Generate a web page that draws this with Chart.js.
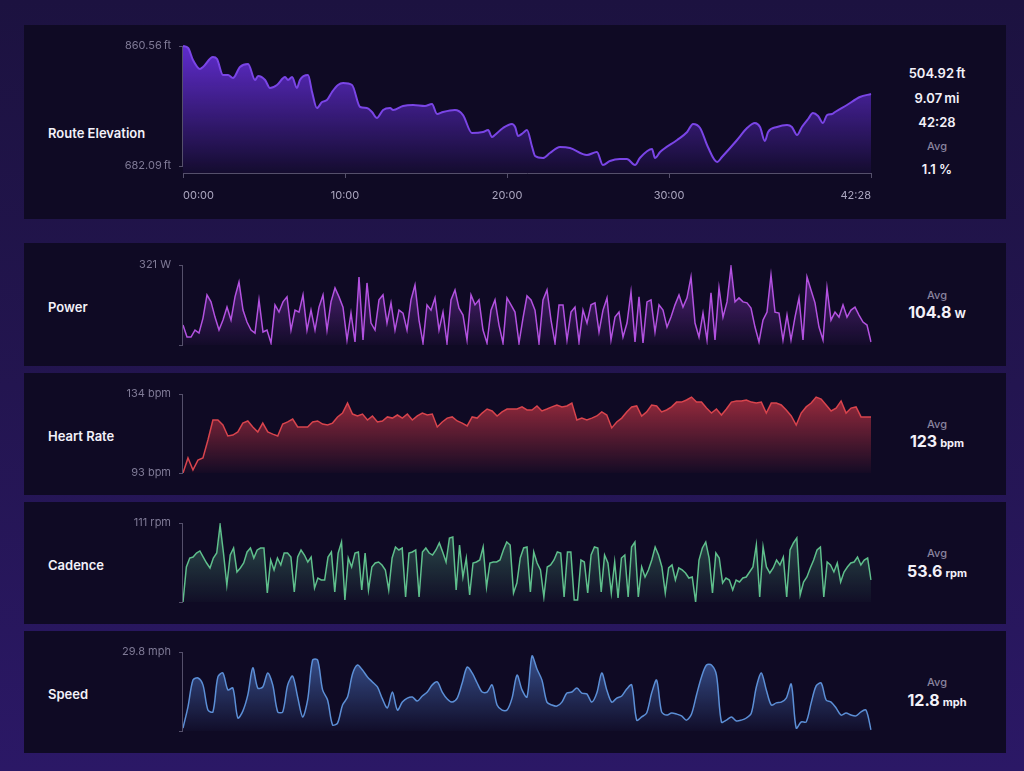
<!DOCTYPE html>
<html>
<head>
<meta charset="utf-8">
<script src="https://cdn.jsdelivr.net/npm/chart.js@4.4.1/dist/chart.umd.min.js"></script>
<style>
  html, body { margin: 0; padding: 0; }
  body {
    width: 1024px; height: 771px; overflow: hidden; position: relative;
    background: linear-gradient(180deg, #1c1240 0%, #231550 50%, #2b1866 100%);
    font-family: Inter, "Noto Sans", sans-serif;
  }
  .panel { position: absolute; left: 24px; width: 982px; background: #0f0a24; }
  .label { position: absolute; left: 48px; line-height: 16px; color: #f3f1f9; font-size: 13px; font-weight: 600; }
  canvas { position: absolute; left: 100px; }
  .stat { position: absolute; left: 870px; width: 134px; text-align: center; line-height: 16px; color: #f3f1f9; font-size: 13px; font-weight: 600; }
  .avg { color: #8a849f; font-size: 11px; font-weight: 500; }
  .big { font-size: 16px; font-weight: 700; line-height: 20px; }
  .unit { font-size: 11px; font-weight: 700; margin-left: 3px; }
</style>
</head>
<body>
<div class="panel" style="top:25px;height:194px"></div>
<div class="panel" style="top:243px;height:123px"></div>
<div class="panel" style="top:373px;height:122px"></div>
<div class="panel" style="top:502px;height:122px"></div>
<div class="panel" style="top:631px;height:122px"></div>

<div class="label" style="top:125px">Route Elevation</div>
<div class="label" style="top:299px">Power</div>
<div class="label" style="top:428px">Heart Rate</div>
<div class="label" style="top:557px">Cadence</div>
<div class="label" style="top:686px">Speed</div>

<div class="stat" style="top:65px">504.92&#8201;ft</div>
<div class="stat" style="top:90px">9.07&#8201;mi</div>
<div class="stat" style="top:114px">42:28</div>
<div class="stat avg" style="top:138px">Avg</div>
<div class="stat" style="top:161px">1.1 %</div>

<div class="stat avg" style="top:287px">Avg</div>
<div class="stat big" style="top:302px">104.8<span class="unit">W</span></div>
<div class="stat avg" style="top:416px">Avg</div>
<div class="stat big" style="top:431px">123<span class="unit">bpm</span></div>
<div class="stat avg" style="top:545px">Avg</div>
<div class="stat big" style="top:561px">53.6<span class="unit">rpm</span></div>
<div class="stat avg" style="top:674px">Avg</div>
<div class="stat big" style="top:690px">12.8<span class="unit">mph</span></div>

<canvas id="elevChart" width="790" height="176" style="top:31px"></canvas>
<canvas id="powerChart" width="790" height="110" style="top:250px"></canvas>
<canvas id="heartChart" width="790" height="109" style="top:379px"></canvas>
<canvas id="cadenceChart" width="790" height="109" style="top:508px"></canvas>
<canvas id="speedChart" width="790" height="109" style="top:637px"></canvas>

<script>
// elevation: time (s) and feet
const elevTime = [0,19,37,63,74,111,126,148,167,185,211,241,267,278,304,322,348,378,389,404,
  422,433,463,478,496,515,533,552,574,593,626,656,681,700,718,741,767,778,815,852,
  896,922,941,963,1007,1037,1070,1111,1130,1144,1155,1185,1218,1230,1241,1259,1274,1293,1304,1333,
  1359,1396,1433,1496,1533,1555,1581,1618,1644,1674,1692,1737,1748,1767,1830,1867,1889,1915,1944,1978,
  1996,2052,2089,2118,2137,2155,2167,2200,2237,2255,2274,2292,2315,2333,2352,2370,2385,2404,2415,2459,
  2507,2548];
const elevFt = [860.5,857.6,839.7,826.4,829.3,844.2,841.2,817.4,817.4,813.0,
  829.3,833.8,810.0,815.9,810.0,798.1,802.6,814.4,810.0,814.4,
  798.1,810.0,817.4,792.2,768.3,777.3,780.2,792.2,802.6,805.5,
  802.6,769.8,768.3,762.4,753.5,765.4,768.3,765.4,771.3,772.8,
  771.3,774.3,759.4,762.4,765.4,757.9,731.2,732.7,735.6,725.2,
  728.2,738.6,744.6,740.1,726.7,731.2,735.6,710.3,697.0,694.0,
  701.4,710.3,708.9,698.5,702.9,683.6,689.5,692.5,692.5,683.6,
  694.0,707.4,694.0,702.9,720.8,732.7,744.6,738.6,710.3,688.0,
  695.5,720.8,738.6,746.1,740.1,719.3,732.7,740.1,743.1,740.1,
  728.2,740.1,752.0,760.9,756.5,746.1,757.9,759.4,762.4,772.8,
  784.7,789.2];
const elevTicks = [682.09, 860.56];
const timeTicks = [0, 600, 1200, 1800, 2548];

// evenly sampled ride streams
const powerW = [80,32,32,60,48,108,201,173,112,60,
  100,152,100,193,253,140,92,60,48,181,
  52,60,8,161,132,173,193,60,140,132,
  201,60,140,60,152,201,60,173,229,193,
  152,20,128,12,273,20,249,88,60,181,
  201,88,169,60,140,
  128,60,181,241,100,8,161,140,189,60,
  132,8,181,221,148,120,20,201,161,181,
  60,8,140,181,80,8,189,161,132,8,
  108,197,181,140,8,181,221,100,8,161,
  161,20,132,152,12,140,88,161,169,52,
  140,189,20,112,132,32,88,213,12,193,
  8,173,181,52,161,140,72,112,161,201,
  152,189,273,88,32,128,20,209,20,229,
  112,173,313,173,189,173,169,148,72,12,
  100,132,281,132,128,20,120,20,112,189,
  20,273,221,169,72,20,229,100,132,112,
  161,112,140,152,120,92,80,12];
const heartBpm = [93.0,100.8,94.6,99.7,100.8,110.1,120.5,120.5,117.9,112.2,
  112.7,114.3,118.9,120.0,116.9,114.3,118.9,114.3,113.2,112.2,
  118.4,119.5,121.0,116.9,116.9,116.9,119.5,120.0,118.4,117.9,
  118.9,122.1,124.1,129.3,123.6,122.6,123.6,120.5,122.6,119.5,
  120.0,122.1,121.5,123.1,121.5,123.6,120.5,122.6,124.1,123.1,
  123.6,116.9,119.5,121.5,122.1,120.0,118.9,117.4,122.1,121.5,
  124.1,126.2,125.2,122.6,124.7,126.2,126.2,126.2,127.3,125.7,
  125.7,127.8,125.2,126.2,127.3,128.3,127.3,127.8,129.3,120.5,
  121.5,120.5,121.5,122.6,124.7,123.1,116.4,119.5,121.5,124.7,
  127.3,127.8,122.6,124.7,128.3,127.8,124.7,125.7,127.3,129.8,
  129.8,130.9,132.4,129.8,129.8,126.7,124.1,126.2,123.1,126.2,
  129.8,130.4,130.4,130.9,129.8,129.3,129.8,124.1,129.3,129.3,
  128.3,125.7,122.6,117.9,124.1,127.3,129.3,132.4,131.4,128.3,
  125.2,126.7,130.4,124.1,126.7,127.3,122.1,122.1,122.1];
const cadenceRpm = [0,49.2,61.8,63.2,68.8,71.7,63.2,54.8,47.8,61.8,
  68.8,108.2,68.8,23.9,66.0,75.9,42.2,47.8,54.8,70.3,
  75.9,61.8,73.1,75.9,75.9,12.6,59.0,45.0,61.8,52.0,
  68.8,68.8,63.2,14.1,63.2,73.1,66.0,56.2,63.2,19.7,
  33.7,30.9,30.9,63.2,70.3,14.1,68.8,84.3,2.8,61.8,
  49.2,68.8,70.3,16.9,68.8,16.9,49.2,54.8,56.2,52.0,
  45.0,16.9,61.8,77.3,73.1,75.9,7.0,68.8,70.3,73.1,
  7.0,70.3,75.9,68.8,66.0,73.1,82.9,70.3,56.2,89.9,
  91.3,16.9,80.1,35.1,61.8,9.8,54.8,56.2,59.0,77.3,
  21.1,54.8,56.2,56.2,59.0,73.1,84.3,80.1,12.6,26.7,
  61.8,75.9,77.3,14.1,70.3,54.8,45.0,7.0,49.2,52.0,
  59.0,70.3,68.8,7.0,70.3,70.3,2.8,2.8,59.0,56.2,
  12.6,66.0,77.3,75.9,14.1,66.0,54.8,12.6,56.2,5.6,
  61.8,66.0,7.0,77.3,84.3,7.0,49.2,35.1,45.0,59.0,
  77.3,66.0,49.2,12.6,47.8,52.0,30.9,47.8,45.0,40.7,
  33.7,35.1,0,59.0,75.9,84.3,61.8,12.6,68.8,61.8,
  26.7,33.7,30.9,16.9,30.9,28.1,33.7,35.1,42.2,49.2,
  80.1,7.0,77.3,49.2,40.7,47.8,59.0,52.0,63.2,7.0,
  73.1,82.9,89.9,9.8,28.1,35.1,47.8,59.0,73.1,77.3,
  7.0,56.2,52.0,42.2,54.8,28.1,42.2,49.2,54.8,56.2,
  63.2,52.0,59.0,61.8,30.9];
const speedMph = [1.1,9.1,19.2,20.0,17.4,7.9,7.2,20.4,21.9,15.5,
  16.2,4.9,7.5,13.6,23.8,16.2,16.6,21.9,17.4,7.2,
  7.2,17.4,20.7,12.8,5.3,11.7,26.8,26.8,15.5,11.7,
  2.3,3.0,9.8,12.8,21.5,24.9,23.0,20.4,18.5,16.6,
  12.1,8.7,14.7,7.9,10.9,12.4,12.8,11.3,13.2,14.7,
  17.4,18.5,14.7,12.1,10.9,12.4,18.1,24.1,21.9,18.1,
  14.7,14.7,17.4,9.8,7.9,7.9,12.4,21.1,15.5,12.8,
  28.3,23.4,19.2,10.9,9.8,9.4,10.9,14.3,14.7,16.2,
  14.3,14.0,10.9,14.3,21.9,15.5,10.9,12.4,13.2,15.8,
  17.4,4.1,5.3,6.8,14.3,19.2,7.2,6.0,6.8,6.4,
  5.7,4.1,6.4,13.6,20.4,24.9,24.9,21.1,3.4,4.1,
  5.3,3.8,4.1,4.9,6.8,16.6,21.9,15.5,9.8,10.6,
  10.9,12.4,17.7,1.1,3.4,3.4,10.6,17.0,18.1,11.7,
  10.9,8.7,6.0,6.8,6.0,5.7,7.2,7.9,0.4];

const powerTicks = [0, 321];
const heartTicks = [93, 134];
const cadenceTicks = [0, 111];
const speedTicks = [0, 29.8];

const axisColor = '#55506b';
const tickColor = '#7f7a96';
Chart.defaults.font.family = 'Inter, "Noto Sans", sans-serif';
Chart.defaults.font.size = 11;

// y axis line only between the lowest and highest tick
const yAxisLine = {
  id: 'yAxisLine',
  afterDraw(chart) {
    const s = chart.scales.y;
    const top = s.getPixelForValue(s.ticks[s.ticks.length - 1].value);
    const bottom = s.getPixelForValue(s.ticks[0].value);
    const x = chart.chartArea.left - 0.5;
    const c = chart.ctx;
    c.save();
    c.strokeStyle = axisColor;
    c.lineWidth = 1;
    c.beginPath();
    c.moveTo(x, top);
    c.lineTo(x, bottom);
    c.stroke();
    c.restore();
  }
};

function fade(rgb, a0, a1) {
  return ctx => {
    const area = ctx.chart.chartArea;
    if (!area) return 'transparent';
    const g = ctx.chart.ctx.createLinearGradient(0, area.top, 0, area.bottom);
    g.addColorStop(0, `rgba(${rgb},${a0})`);
    g.addColorStop(1, `rgba(${rgb},${a1})`);
    return g;
  };
}

// tick label half height (7) + padding (8) = 15px kept above/below the plot
function yScale(min, max, ticks, label) {
  return {
    min, max,
    afterBuildTicks: s => { s.ticks = ticks.map(v => ({ value: v })); },
    afterFit: s => { s.width = 83; },
    border: { display: false },
    grid: { drawOnChartArea: false, tickLength: 4, color: axisColor },
    ticks: { color: tickColor, padding: 8, font: { size: 11, lineHeight: '14px' }, callback: label }
  };
}

const mmss = v => String(Math.floor(v / 60)).padStart(2, '0') + ':' + String(Math.round(v % 60)).padStart(2, '0');

new Chart(document.getElementById('elevChart'), {
  type: 'line',
  data: {
    datasets: [{
      data: elevTime.map((t, i) => ({ x: t, y: elevFt[i] })),
      borderColor: '#7a45e6',
      borderWidth: 2,
      backgroundColor: fade('110,50,235', 0.85, 0.06),
      fill: 'start',
      pointRadius: 0,
      tension: 0.4,
      cubicInterpolationMode: 'monotone',
      clip: 3
    }]
  },
  options: {
    responsive: false,
    animation: false,
    layout: { padding: { top: 0, right: 19, bottom: 0, left: 0 } },
    plugins: { legend: { display: false }, tooltip: { enabled: false } },
    scales: {
      x: {
        type: 'linear', min: 0, max: 2548,
        afterBuildTicks: s => { s.ticks = timeTicks.map(v => ({ value: v })); },
        afterFit: s => { s.height = 34; },
        border: { display: true, color: axisColor },
        grid: { drawOnChartArea: false, tickLength: 5, color: axisColor },
        ticks: { color: '#aba6bf', padding: 11, align: 'inner', maxRotation: 0, autoSkip: false, callback: mmss }
      },
      y: yScale(671.7, 860.56, elevTicks, v => v.toFixed(2) + '\u2009ft')
    }
  },
  plugins: [yAxisLine]
});

function streamChart(id, values, ticks, label, line, rgb, a0, tension) {
  new Chart(document.getElementById(id), {
    type: 'line',
    data: {
      labels: values.map((_, i) => i),
      datasets: [{
        data: values,
        borderColor: line,
        borderWidth: 1.5,
        backgroundColor: fade(rgb, a0, 0.03),
        fill: 'start',
        pointRadius: 0,
        tension
      }]
    },
    options: {
      responsive: false,
      animation: false,
      layout: { padding: { top: 0, right: 19, bottom: 0, left: 0 } },
      plugins: { legend: { display: false }, tooltip: { enabled: false } },
      scales: {
        x: { display: false, offset: false },
        y: yScale(ticks[0], ticks[1], ticks, label)
      }
    },
    plugins: [yAxisLine]
  });
}

streamChart('powerChart', powerW, powerTicks, (v, i) => i ? v + ' W' : '', '#b352e0', '150,60,205', 0.55, 0);
streamChart('heartChart', heartBpm, heartTicks, v => v + ' bpm', '#d8444d', '205,55,70', 0.75, 0);
streamChart('cadenceChart', cadenceRpm, cadenceTicks, (v, i) => i ? v + ' rpm' : '', '#5fbf8c', '85,170,130', 0.45, 0);
streamChart('speedChart', speedMph, speedTicks, (v, i) => i ? v + ' mph' : '', '#5c8fd6', '85,130,215', 0.6, 0.3);
</script>
</body>
</html>
